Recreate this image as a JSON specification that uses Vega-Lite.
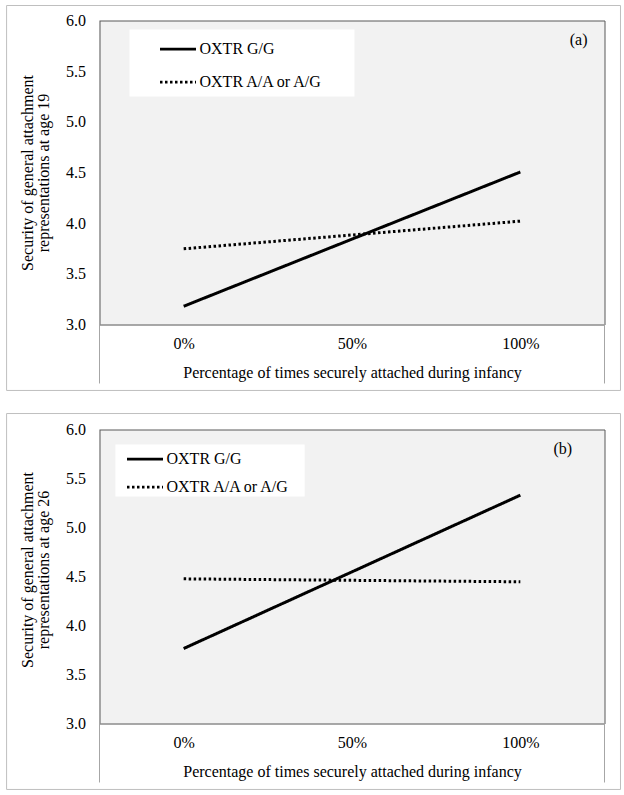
{
  "$schema": "https://vega.github.io/schema/vega-lite/v6.json",
  "padding": {"left": 5.5, "top": 4.5, "right": 0, "bottom": 0},
  "background": "white",
  "spacing": 21,
  "resolve": {"scale": {"strokeDash": "independent"}, "legend": {"strokeDash": "independent"}},
  "config": {
    "font": "Liberation Serif",
    "view": {"fill": "#f2f2f2", "stroke": "#595959", "strokeWidth": 1},
    "axis": {"labelFont": "Liberation Serif", "titleFont": "Liberation Serif", "labelFontSize": 16, "titleFontSize": 16, "labelColor": "black", "titleColor": "black", "titleFontWeight": "normal", "grid": false, "ticks": false},
    "legend": {"labelFont": "Liberation Serif", "labelFontSize": 16, "labelColor": "black"}
  },
  "vconcat": [
    {
      "width": 505,
      "height": 304,
      "layer": [
        {
          "data": {"values": [{}]},
          "mark": {"type": "rect", "filled": false, "color": "#bfbfbf", "strokeWidth": 1},
          "encoding": {
            "x": {"datum": -52.6, "type": "quantitative"},
            "x2": {"datum": 129.75},
            "y": {"datum": 6.148, "type": "quantitative"},
            "y2": {"datum": 2.349}
          }
        },
        {
          "data": {"values": [{}]},
          "mark": {"type": "rule", "color": "#a6a6a6", "strokeWidth": 1},
          "encoding": {
            "x": {"datum": -25, "type": "quantitative"},
            "y": {"datum": 2.418, "type": "quantitative"},
            "y2": {"datum": 6}
          }
        },
        {
          "data": {"values": [{}]},
          "mark": {"type": "rule", "color": "#a6a6a6", "strokeWidth": 1},
          "encoding": {
            "x": {"datum": 125, "type": "quantitative"},
            "y": {"datum": 2.418, "type": "quantitative"},
            "y2": {"datum": 3}
          }
        },
        {
          "data": {"values": [{}]},
          "mark": {"type": "rect", "fill": "white", "stroke": null},
          "encoding": {
            "x": {"datum": -16.09, "type": "quantitative"},
            "x2": {"datum": 50.74},
            "y": {"datum": 5.911, "type": "quantitative"},
            "y2": {"datum": 5.25}
          }
        },
        {
          "data": {"values": [
            {"pct": 0, "security": 3.18, "genotype": "OXTR G/G"},
            {"pct": 100, "security": 4.505, "genotype": "OXTR G/G"},
            {"pct": 0, "security": 3.747, "genotype": "OXTR A/A or A/G"},
            {"pct": 100, "security": 4.02, "genotype": "OXTR A/A or A/G"}
          ]},
          "mark": {"type": "line", "color": "black", "strokeWidth": 3},
          "encoding": {
            "x": {"field": "pct", "type": "quantitative", "scale": {"domain": [-25, 125], "nice": false, "zero": false},
              "axis": {"values": [0, 50, 100], "labelExpr": "datum.value + '%'", "domainColor": "#a6a6a6", "labelPadding": 11, "titlePadding": 13, "title": "Percentage of times securely attached during infancy"}},
            "y": {"field": "security", "type": "quantitative", "scale": {"domain": [3, 6], "nice": false, "zero": false},
              "axis": {"values": [3, 3.5, 4, 4.5, 5, 5.5, 6], "format": ".1f", "domain": false, "labelPadding": 14, "title": ["Security of general attachment", "representations at age 19"], "titleX": -64, "titleY": 152, "titleLineHeight": 16}},
            "strokeDash": {"field": "genotype", "type": "nominal",
              "scale": {"domain": ["OXTR G/G", "OXTR A/A or A/G"], "range": [[1, 0], [2.5, 2.5]]},
              "legend": {"orient": "none", "legendX": 59, "legendY": 9, "title": null, "padding": 0, "symbolType": "stroke", "symbolSize": 1296, "symbolStrokeWidth": 2.75, "symbolStrokeColor": "black", "labelOffset": 2, "rowPadding": 5}},
            "detail": {"field": "genotype"}
          }
        },
        {
          "data": {"values": [{}]},
          "mark": {"type": "text", "text": "(a)", "fontSize": 16, "color": "black", "align": "center", "baseline": "middle"},
          "encoding": {
            "x": {"datum": 117.3, "type": "quantitative"},
            "y": {"datum": 5.81, "type": "quantitative"}
          }
        }
      ]
    },
    {
      "width": 505,
      "height": 294,
      "layer": [
        {
          "data": {"values": [{}]},
          "mark": {"type": "rect", "filled": false, "color": "#bfbfbf", "strokeWidth": 1},
          "encoding": {
            "x": {"datum": -52.6, "type": "quantitative"},
            "x2": {"datum": 129.75},
            "y": {"datum": 6.163, "type": "quantitative"},
            "y2": {"datum": 2.327}
          }
        },
        {
          "data": {"values": [{}]},
          "mark": {"type": "rule", "color": "#a6a6a6", "strokeWidth": 1},
          "encoding": {
            "x": {"datum": -25, "type": "quantitative"},
            "y": {"datum": 2.398, "type": "quantitative"},
            "y2": {"datum": 6}
          }
        },
        {
          "data": {"values": [{}]},
          "mark": {"type": "rule", "color": "#a6a6a6", "strokeWidth": 1},
          "encoding": {
            "x": {"datum": 125, "type": "quantitative"},
            "y": {"datum": 2.398, "type": "quantitative"},
            "y2": {"datum": 3}
          }
        },
        {
          "data": {"values": [{}]},
          "mark": {"type": "rect", "fill": "white", "stroke": null},
          "encoding": {
            "x": {"datum": -20.27, "type": "quantitative"},
            "x2": {"datum": 35.95},
            "y": {"datum": 5.847, "type": "quantitative"},
            "y2": {"datum": 5.316}
          }
        },
        {
          "data": {"values": [
            {"pct": 0, "security": 3.765, "genotype": "OXTR G/G"},
            {"pct": 100, "security": 5.33, "genotype": "OXTR G/G"},
            {"pct": 0, "security": 4.476, "genotype": "OXTR A/A or A/G"},
            {"pct": 100, "security": 4.446, "genotype": "OXTR A/A or A/G"}
          ]},
          "mark": {"type": "line", "color": "black", "strokeWidth": 3},
          "encoding": {
            "x": {"field": "pct", "type": "quantitative", "scale": {"domain": [-25, 125], "nice": false, "zero": false},
              "axis": {"values": [0, 50, 100], "labelExpr": "datum.value + '%'", "domainColor": "#a6a6a6", "labelPadding": 11, "titlePadding": 13, "title": "Percentage of times securely attached during infancy"}},
            "y": {"field": "security", "type": "quantitative", "scale": {"domain": [3, 6], "nice": false, "zero": false},
              "axis": {"values": [3, 3.5, 4, 4.5, 5, 5.5, 6], "format": ".1f", "domain": false, "labelPadding": 14, "title": ["Security of general attachment", "representations at age 26"], "titleX": -64, "titleY": 140, "titleLineHeight": 16}},
            "strokeDash": {"field": "genotype", "type": "nominal",
              "scale": {"domain": ["OXTR G/G", "OXTR A/A or A/G"], "range": [[1, 0], [2.5, 2.5]]},
              "legend": {"orient": "none", "legendX": 26, "legendY": 10, "title": null, "padding": 0, "symbolType": "stroke", "symbolSize": 1296, "symbolStrokeWidth": 2.75, "symbolStrokeColor": "black", "labelOffset": 2, "rowPadding": -11}},
            "detail": {"field": "genotype"}
          }
        },
        {
          "data": {"values": [{}]},
          "mark": {"type": "text", "text": "(b)", "fontSize": 16, "color": "black", "align": "center", "baseline": "middle"},
          "encoding": {
            "x": {"datum": 112.6, "type": "quantitative"},
            "y": {"datum": 5.80, "type": "quantitative"}
          }
        }
      ]
    }
  ]
}
